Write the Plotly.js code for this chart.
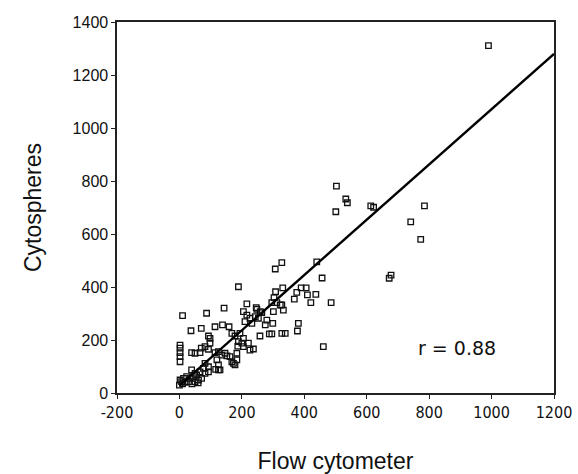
<!DOCTYPE html>
<html>
<head>
<meta charset="utf-8">
<script src="https://cdn.plot.ly/plotly-3.0.1.min.js"></script>
<style>html,body{margin:0;padding:0;background:#fff}#chart{width:578px;height:474px}</style>
</head>
<body>
<div id="chart"></div>
<script>
// Flow cytometer counts (x) vs Cytospheres counts (y)
const flowCytometer = [
  2, 7, 13, 23, 29, 34, 39, 45, 50, 50, 55, 61, 66, 71, 77, 82, 82, 93, 93, 125, 130, 116, 120, 125, 0, 10, 18, 40, 60,
  2, 2, 2, 2, 2,
  39, 50, 66, 70, 82, 93, 98, 98, 93, 114, 125, 136, 146, 162, 168, 184, 173, 178, 152,
  168, 178, 194, 205, 189, 200, 221, 226, 184, 187, 205,
  216, 226, 243, 210, 232,
  10, 87, 37, 70, 114, 138, 159,
  189, 143, 216, 246, 205, 259,
  328, 307, 440, 457, 331, 308, 390, 406, 376, 368, 410, 437, 421, 486, 303, 296, 312, 328, 301, 333, 248, 264, 253, 280, 299, 275, 381, 378, 258, 288, 296, 328, 339, 461, 237, 323,
  503, 533, 538, 501, 613, 622, 785, 741, 773, 678, 672, 990
];
const cytospheres = [
  49, 43, 55, 62, 43, 55, 87, 62, 74, 43, 68, 49, 80, 55, 93, 74, 112, 99, 80, 87, 87, 89, 125, 106, 30, 35, 40, 35, 38,
  181, 169, 152, 137, 118,
  152, 150, 152, 169, 175, 165, 188, 206, 215, 152, 156, 143, 150, 137, 118, 125, 112, 106, 140,
  225, 215, 225, 206, 194, 188, 188, 162, 150, 177, 175,
  294, 282, 288, 269, 263,
  292, 301, 235, 244, 250, 257, 250,
  401, 320, 336, 322, 307, 307,
  492, 468, 495, 434, 397, 382, 397, 397, 380, 354, 370, 372, 341, 341, 360, 341, 341, 332, 307, 313, 316, 303, 282, 275, 263, 257, 263, 234, 215, 223, 223, 225, 225, 175, 166, 332,
  781, 732, 718, 684, 706, 701, 706, 646, 580, 445, 433, 1311
];
// regression line end points
const fitX = [0, 1200];
const fitY = [28, 1280];
const xTicks = [-200, 0, 200, 400, 600, 800, 1000, 1200];
const yTicks = [0, 200, 400, 600, 800, 1000, 1200, 1400];
const rLabel = 'r = 0.88';

const traces = [
  {
    x: flowCytometer, y: cytospheres, type: 'scatter', mode: 'markers',
    marker: {symbol: 'square-open', size: 5.5, color: '#111', line: {width: 1.3, color: '#111'}},
    hoverinfo: 'x+y', showlegend: false
  },
  {
    x: fitX, y: fitY, type: 'scatter', mode: 'lines',
    line: {color: '#000', width: 2.4}, showlegend: false
  }
];

const layout = {
  width: 578, height: 474,
  margin: {l: 117, r: 24, t: 22, b: 81},
  paper_bgcolor: '#fff', plot_bgcolor: '#fff',
  showlegend: false,
  xaxis: {
    range: [-200, 1200], tickvals: xTicks, ticktext: xTicks.map(String),
    showgrid: false, zeroline: false,
    showline: true, mirror: true, linecolor: '#222', linewidth: 1.6,
    ticks: 'outside', ticklen: 4, tickcolor: '#222',
    tickfont: {family: 'DejaVu Sans Condensed, DejaVu Sans', size: 16, color: '#111'},
    title: {text: 'Flow cytometer', font: {family: 'Liberation Sans, Arial', size: 23, color: '#111'}, standoff: 34}
  },
  yaxis: {
    range: [0, 1400], tickvals: yTicks, ticktext: yTicks.map(String),
    showgrid: false, zeroline: false,
    showline: true, mirror: true, linecolor: '#222', linewidth: 1.6,
    ticks: 'outside', ticklen: 4, tickcolor: '#222',
    tickfont: {family: 'Liberation Sans, Arial', size: 16, color: '#111'},
    title: {text: 'Cytospheres', font: {family: 'Liberation Sans, Arial', size: 23, color: '#111'}, standoff: 24}
  },
  annotations: [{
    x: 890, y: 170, xref: 'x', yref: 'y', text: rLabel, showarrow: false,
    font: {family: 'DejaVu Sans', size: 19, color: '#111'}
  }]
};

Plotly.newPlot('chart', traces, layout, {displayModeBar: false, staticPlot: true});
</script>
</body>
</html>
